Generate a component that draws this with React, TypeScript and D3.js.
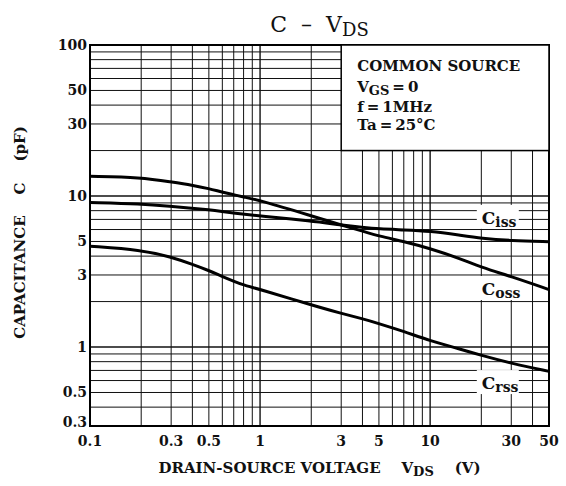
import { useMemo } from "react";
import * as d3 from "d3";

const W = 566;
const H = 486;
const BOUNDS = { left: 90, right: 549, top: 45, bottom: 426 };
const FONT = "'DejaVu Serif', serif";

const VDS = [0.1, 0.2, 0.3, 0.4, 0.5, 0.6, 0.7, 0.8, 1, 2, 3, 4, 5, 7, 10, 15, 20, 30, 50];
const COSS = [13.5, 13.3, 12.4, 11.8, 11.2, 10.6, 10.2, 9.85, 9.35, 7.4, 6.43, 5.86, 5.43, 5.0, 4.5, 3.85, 3.37, 2.93, 2.4];
const CISS = [9.06, 8.87, 8.55, 8.3, 8.1, 7.9, 7.72, 7.58, 7.38, 6.83, 6.43, 6.2, 6.05, 5.97, 5.86, 5.5, 5.25, 5.06, 4.98];
const CRSS = [4.65, 4.4, 3.95, 3.53, 3.21, 2.93, 2.73, 2.57, 2.41, 1.9, 1.67, 1.54, 1.43, 1.27, 1.1, 0.97, 0.88, 0.78, 0.69];

const X_TICKS = [0.1, 0.3, 0.5, 1, 3, 5, 10, 30, 50];
const Y_TICKS = [100, 50, 30, 10, 5, 3, 1, 0.5, 0.3];
const X_GRID = [0.2, 0.3, 0.4, 0.5, 0.6, 0.7, 0.8, 0.9, 1, 2, 3, 4, 5, 6, 7, 8, 9, 10, 20, 30, 40];
const Y_GRID = [0.4, 0.5, 0.6, 0.7, 0.8, 0.9, 1, 2, 3, 4, 5, 6, 7, 8, 9, 10, 20, 30, 40, 50, 60, 70, 80, 90];

// conditions box corner (data units)
const BOX_V = 3;
const BOX_C = 20;
const CONDITIONS = ["COMMON SOURCE", "VGS = 0", "f = 1MHz", "Ta = 25°C"];

const SERIES = [
  { name: "iss", values: CISS, labelV: 25, labelC: 6.95 },
  { name: "oss", values: COSS, labelV: 25, labelC: 2.35 },
  { name: "rss", values: CRSS, labelV: 25, labelC: 0.56 },
];

const App = () => {
  const xScale = useMemo(
    () => d3.scaleLog().domain([0.1, 50]).range([BOUNDS.left, BOUNDS.right]),
    []
  );
  const yScale = useMemo(
    () => d3.scaleLog().domain([0.3, 100]).range([BOUNDS.bottom, BOUNDS.top]),
    []
  );

  const line = d3
    .line<number>()
    .x((_, i) => xScale(VDS[i]))
    .y((d) => yScale(d))
    .curve(d3.curveBasis);

  const boxX = xScale(BOX_V);
  const boxY = yScale(BOX_C);

  return (
    <svg
      width={W}
      height={H}
      style={{ position: "absolute", left: 0, top: 0, background: "white" }}
      fontFamily={FONT}
    >
      {/* grid */}
      <g stroke="#111" strokeWidth={1}>
        {X_GRID.map((v) => (
          <line
            key={"gx" + v}
            x1={xScale(v)}
            x2={xScale(v)}
            y1={v >= BOX_V ? boxY : BOUNDS.top}
            y2={BOUNDS.bottom}
            strokeWidth={v === 1 || v === 10 ? 1.4 : 1}
          />
        ))}
        {Y_GRID.map((c) => (
          <line
            key={"gy" + c}
            y1={yScale(c)}
            y2={yScale(c)}
            x1={BOUNDS.left}
            x2={c > BOX_C ? boxX : BOUNDS.right}
            strokeWidth={c === 1 || c === 10 ? 1.4 : 1}
          />
        ))}
      </g>

      {/* curve labels with white backing */}
      {SERIES.map((s) => {
        const cx = xScale(s.labelV);
        const cy = yScale(s.labelC);
        return (
          <g key={"lab" + s.name}>
            <rect x={cx - 21} y={cy - 15} width={42} height={24} fill="white" />
            <text x={cx - 16} y={cy + 4} fontSize={17} fontWeight="bold" fill="#111">
              C
              <tspan fontSize={14} dy={3}>
                {s.name}
              </tspan>
            </text>
          </g>
        );
      })}

      {/* curves */}
      {SERIES.map((s) => (
        <path
          key={s.name}
          d={line(s.values) ?? ""}
          fill="none"
          stroke="#000"
          strokeWidth={3}
          strokeLinejoin="round"
        />
      ))}

      {/* frame and conditions box */}
      <rect
        x={BOUNDS.left}
        y={BOUNDS.top}
        width={BOUNDS.right - BOUNDS.left}
        height={BOUNDS.bottom - BOUNDS.top}
        fill="none"
        stroke="#000"
        strokeWidth={2}
      />
      <rect
        x={boxX}
        y={BOUNDS.top}
        width={BOUNDS.right - boxX}
        height={boxY - BOUNDS.top}
        fill="white"
        stroke="#000"
        strokeWidth={1.5}
      />
      <g fontSize={15} fontWeight="bold" fill="#111" style={{ whiteSpace: "pre" }}>
        <text x={boxX + 16} y={BOUNDS.top + 26}>
          {CONDITIONS[0]}
        </text>
        <text x={boxX + 16} y={BOUNDS.top + 47}>
          V<tspan fontSize={13} dy={3}>GS</tspan>
          <tspan dy={-3}>{"\u2009=\u20090"}</tspan>
        </text>
        <text x={boxX + 16} y={BOUNDS.top + 67}>
          {"f\u2009=\u20091MHz"}
        </text>
        <text x={boxX + 16} y={BOUNDS.top + 85}>
          {"Ta\u2009=\u200925°C"}
        </text>
      </g>

      {/* tick labels */}
      <g fontSize={14} fontWeight="bold" fill="#111">
        {X_TICKS.map((v) => (
          <text key={"xt" + v} x={xScale(v)} y={BOUNDS.bottom + 20} textAnchor="middle">
            {v}
          </text>
        ))}
        {Y_TICKS.map((c) => (
          <text
            key={"yt" + c}
            x={BOUNDS.left - 3}
            y={yScale(c) + 5 - (c === 0.3 ? 4 : 0)}
            textAnchor="end"
          >
            {c}
          </text>
        ))}
      </g>

      {/* title */}
      <text
        x={(BOUNDS.left + BOUNDS.right) / 2}
        y={32}
        textAnchor="middle"
        fontSize={22}
        fill="#111"
        style={{ whiteSpace: "pre" }}
      >
        {"C  –  V"}
        <tspan fontSize={18} dy={4}>DS</tspan>
      </text>

      {/* axis titles */}
      <text
        x={(BOUNDS.left + BOUNDS.right) / 2}
        y={473}
        textAnchor="middle"
        fontSize={15}
        fontWeight="bold"
        fill="#111"
        style={{ whiteSpace: "pre" }}
      >
        {"DRAIN-SOURCE VOLTAGE    V"}
        <tspan fontSize={13} dy={3}>DS</tspan>
        <tspan dy={-3}>{"    (V)"}</tspan>
      </text>
      <text
        transform={`translate(25,${(BOUNDS.top + BOUNDS.bottom) / 2 - 3}) rotate(-90)`}
        textAnchor="middle"
        fontSize={15}
        fontWeight="bold"
        fill="#111"
        style={{ whiteSpace: "pre" }}
      >
        {"CAPACITANCE    C    (pF)"}
      </text>
    </svg>
  );
};

export default App;
